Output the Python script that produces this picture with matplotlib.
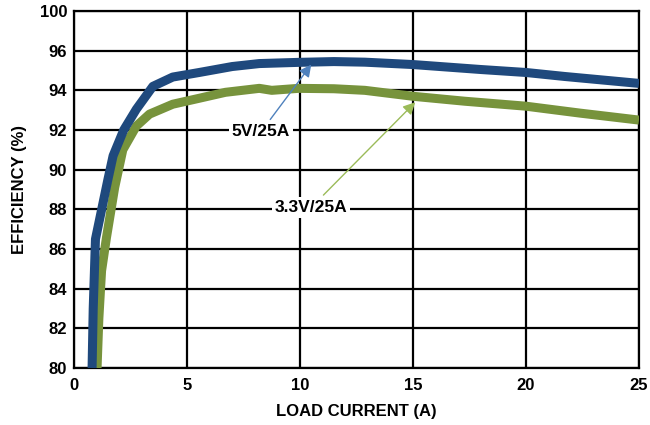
import matplotlib
matplotlib.use('Agg')
import matplotlib.pyplot as plt

plt.rcParams['font.family'] = ['Liberation Sans Narrow', 'Liberation Sans', 'DejaVu Sans']
plt.rcParams['font.weight'] = 'bold'

# 5V/25A curve
i_5v = [0.80, 0.85, 0.95, 1.5, 1.73, 2.2, 2.76, 3.49, 4.37, 5.54, 7.0, 8.2, 9.93,
        11.5, 12.87, 15.0, 18.0, 20.0, 21.7, 25.0]
eff_5v = [80.0, 83.0, 86.5, 89.5, 90.7, 92.0, 93.05, 94.2, 94.67, 94.9, 95.2, 95.35, 95.41,
          95.45, 95.42, 95.3, 95.05, 94.9, 94.7, 94.35]

# 3.3V/25A curve
i_3v3 = [1.02, 1.1, 1.22, 1.44, 1.8, 2.16, 2.76, 3.34, 4.37, 5.54, 6.7, 8.2, 8.75, 9.93,
         11.5, 12.87, 15.0, 17.3, 20.0, 22.4, 25.0]
eff_3v3 = [80.0, 82.5, 84.9, 86.6, 89.1, 91.0, 92.2, 92.8, 93.3, 93.6, 93.9, 94.1, 94.0, 94.1,
           94.08, 94.0, 93.7, 93.45, 93.2, 92.85, 92.5]

xticks = [0, 5, 10, 15, 20, 25]
yticks = [80, 82, 84, 86, 88, 90, 92, 94, 96, 98]
ylabels = ['80', '82', '84', '86', '88', '90', '92', '94', '96', '100']

fig = plt.figure(figsize=(6.5, 4.25), dpi=100)
ax = fig.add_axes([74 / 650, 57 / 425, 565 / 650, 357 / 425])

ax.plot(i_3v3, eff_3v3, color='#77933C', lw=6.5, solid_capstyle='butt', zorder=3)
ax.plot(i_5v, eff_5v, color='#1F497D', lw=6.5, solid_capstyle='butt', zorder=4)

ax.set_xlim(0, 25)
ax.set_ylim(80, 98)
ax.set_xticks(xticks)
ax.set_yticks(yticks)
ax.set_yticklabels(ylabels)
ax.grid(True, color='black', lw=1.6)
ax.set_axisbelow(True)
for s in ax.spines.values():
    s.set_linewidth(1.6)
ax.tick_params(length=0, labelsize=12)
ax.tick_params(axis='x', pad=7)
ax.tick_params(axis='y', pad=5)
for lab in ax.get_xticklabels() + ax.get_yticklabels():
    lab.set_fontweight('bold')

ax.set_xlabel('LOAD CURRENT (A)', fontsize=12, fontweight='bold', labelpad=8)
ax.set_ylabel('EFFICIENCY (%)', fontsize=12, fontweight='bold', labelpad=9)

box = dict(facecolor='white', edgecolor='none', pad=2)
ax.annotate('5V/25A', xy=(10.5, 95.3), xytext=(8.27, 91.9), fontsize=12.5, fontweight='bold',
            ha='center', va='center', bbox=box, zorder=6,
            arrowprops=dict(arrowstyle='-|>', color='#4F81BD', lw=1, mutation_scale=18,
                            shrinkA=2, shrinkB=0))
ax.annotate('3.3V/25A', xy=(15.1, 93.4), xytext=(10.5, 88.1), fontsize=12.5, fontweight='bold',
            ha='center', va='center', bbox=box, zorder=6,
            arrowprops=dict(arrowstyle='-|>', color='#9BBB59', lw=1, mutation_scale=18,
                            shrinkA=2, shrinkB=0))

fig.savefig('out.png', dpi=100)
